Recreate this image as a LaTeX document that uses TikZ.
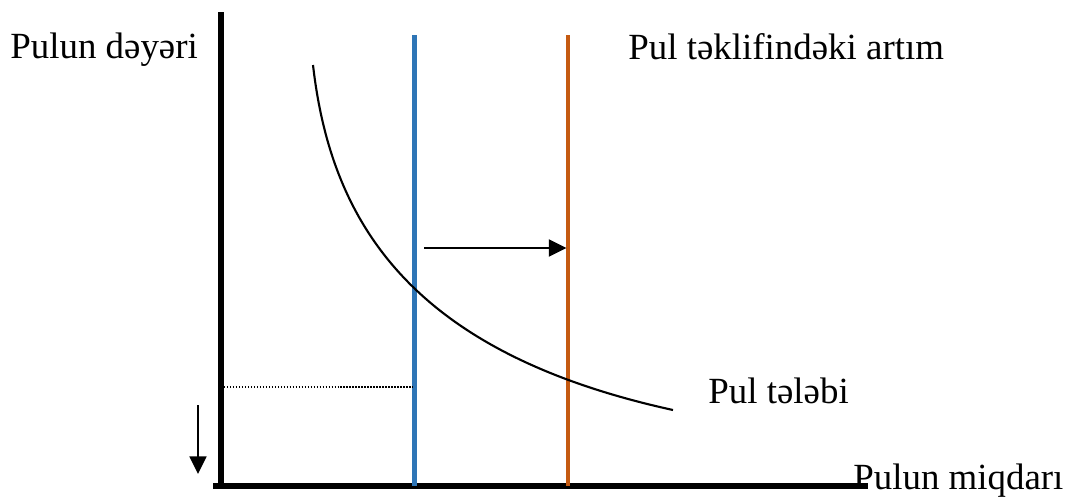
\documentclass[tikz,border=0pt]{standalone}
\usepackage{fontspec}
\setmainfont{Liberation Serif}
\usetikzlibrary{arrows.meta}

\definecolor{supplyOld}{HTML}{2E75B6}
\definecolor{supplyNew}{HTML}{C55A11}

\begin{document}
\begin{tikzpicture}[x=0.02cm, y=-0.02cm,
    axisline/.style={line width=3.2pt},
    supply/.style={line width=2.4pt, draw=#1},
    demand/.style={line width=1.2pt},
    guide/.style={line width=0.8pt, dash pattern=on 0.8pt off 0.9pt},
    move/.style={line width=1.7pt, -{Triangle[length=10pt, width=9.5pt]}},
    lbl/.style={font=\fontsize{21}{25}\selectfont, anchor=base west,
        inner sep=0pt},
]
\useasboundingbox (0,0) rectangle (1067,497);

% === Positions ===
\def\axisX{221}    % value axis
\def\axisY{486}    % quantity axis
\def\lineA{414.5}  % old supply
\def\lineB{568}    % new supply

% === Axes ===
\coordinate (vTop) at (\axisX, 12);
\coordinate (vBot) at (\axisX, 489);
\coordinate (hLeft) at (213, \axisY);
\coordinate (hRight) at (868, \axisY);
\draw[axisline] (vTop) -- (vBot);
\draw[axisline] (hLeft) -- (hRight);

% === Supply lines ===
\coordinate (aTop) at (\lineA, 35);
\coordinate (aBot) at (\lineA, \axisY);
\coordinate (bTop) at (\lineB, 35);
\coordinate (bBot) at (\lineB, \axisY);
\draw[supply=supplyOld] (aTop) -- (aBot);
\draw[supply=supplyNew] (bTop) -- (bBot);

% === Demand curve ===
\coordinate (cStart) at (313, 65);
\coordinate (cEnd) at (673, 410);
\draw[demand] (cStart) .. controls (331, 222.5) and (410.5, 352.5) .. (cEnd);

% Dotted guide to the value axis
\coordinate (gLeft) at (224, 387);
\coordinate (gRight) at (413, 387);
\draw[guide] (gLeft) -- (gRight);

% === Arrows ===
\coordinate (mStart) at (424, 248);
\coordinate (mEnd) at (566.5, 248);
\draw[move] (mStart) -- (mEnd);

\coordinate (dStart) at (198, 405);
\coordinate (dEnd) at (198, 474);
\draw[move, line width=1.3pt] (dStart) -- (dEnd);

% === Labels ===
\node[lbl] (valueLabel) at (10, 58) {Pulun dəyəri};
\node[lbl] (supplyLabel) at (628, 59) {Pul təklifindəki artım};
\node[lbl] (demandLabel) at (708, 403) {Pul tələbi};
\node[lbl] (quantityLabel) at (853, 489) {Pulun miqdarı};

\end{tikzpicture}
\end{document}
